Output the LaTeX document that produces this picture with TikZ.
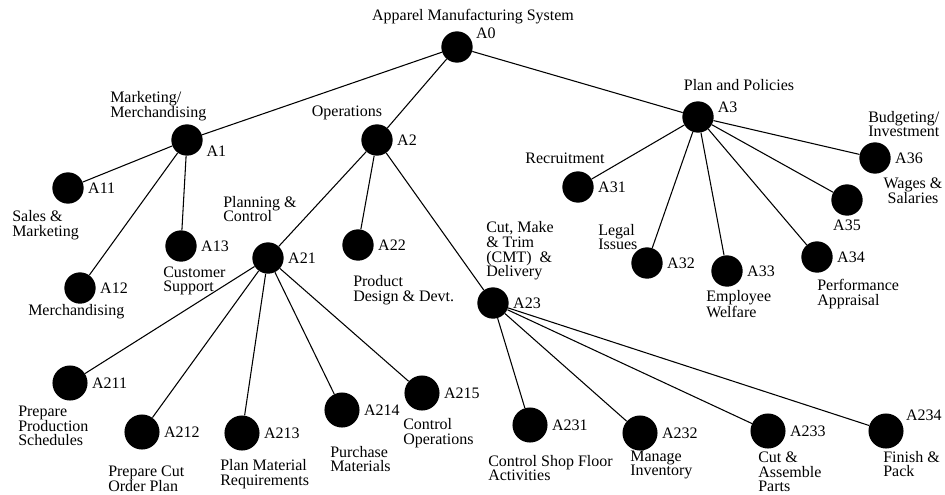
\documentclass[tikz,border=0pt]{standalone}
\usepackage{fontspec}
\setmainfont{Liberation Serif}
\usepackage{tikz}
\usetikzlibrary{positioning}

\tikzset{
  dot/.style={circle, fill=black, inner sep=0pt, minimum size=23.5pt},
  bigdot/.style={circle, fill=black, inner sep=0pt, minimum size=26.3pt},
  lbl/.style={inner sep=1pt, font=\fontsize{12}{11}\selectfont},
  txt/.style={inner sep=0pt, align=left, font=\fontsize{12}{11}\selectfont},
  edge/.style={black, line width=0.8pt}
}

\begin{document}
\begin{tikzpicture}[x=0.75pt, y=-0.75pt, label distance=2pt]
\useasboundingbox (0,0) rectangle (945,494);

% Draw the function nodes
\node[dot, label={[lbl]20:A0}] (a0) at (457,47) {};
\node[dot, label={[lbl]-15:A1}] (a1) at (187,140) {};
\node[dot, label={[lbl]east:A2}] (a2) at (377,140) {};
\node[dot, label={[lbl]10:A3}] (a3) at (698,117) {};

\node[dot, label={[lbl]east:A11}] (a11) at (68,188) {};
\node[dot, label={[lbl]east:A12}] (a12) at (80,288) {};
\node[dot, label={[lbl]east:A13}] (a13) at (181,246) {};

\node[dot, label={[lbl]east:A21}] (a21) at (268,258) {};
\node[dot, label={[lbl]east:A22}] (a22) at (358,245) {};
\node[dot, label={[lbl]east:A23}] (a23) at (493,303) {};

\node[dot, label={[lbl]east:A31}] (a31) at (578,187) {};
\node[dot, label={[lbl]east:A32}] (a32) at (647,263) {};
\node[dot, label={[lbl]east:A33}] (a33) at (727,271) {};
\node[dot, label={[lbl]east:A34}] (a34) at (817,257) {};
\node[dot, label={[lbl]south:A35}] (a35) at (847,200) {};
\node[dot, label={[lbl]east:A36}] (a36) at (875,158) {};

\node[bigdot, label={[lbl]east:A211}] (a211) at (70,383) {};
\node[bigdot, label={[lbl]east:A212}] (a212) at (142,432) {};
\node[bigdot, label={[lbl]east:A213}] (a213) at (242,433) {};
\node[bigdot, label={[lbl]east:A214}] (a214) at (342,410) {};
\node[bigdot, label={[lbl]east:A215}] (a215) at (422,393) {};

\node[bigdot, label={[lbl]east:A231}] (a231) at (530,425) {};
\node[bigdot, label={[lbl]east:A232}] (a232) at (640,433) {};
\node[bigdot, label={[lbl]east:A233}] (a233) at (768,431) {};
\node[bigdot, label={[lbl]25:A234}] (a234) at (886,431) {};

% Draw the tree edges
\draw[edge] (a0) -- (a1);
\draw[edge] (a0) -- (a2);
\draw[edge] (a0) -- (a3);
\draw[edge] (a1) -- (a11);
\draw[edge] (a1) -- (a12);
\draw[edge] (a1) -- (a13);
\draw[edge] (a2) -- (a21);
\draw[edge] (a2) -- (a22);
\draw[edge] (a2) -- (a23);
\draw[edge] (a21) -- (a211);
\draw[edge] (a21) -- (a212);
\draw[edge] (a21) -- (a213);
\draw[edge] (a21) -- (a214);
\draw[edge] (a21) -- (a215);
\draw[edge] (a23) -- (a231);
\draw[edge] (a23) -- (a232);
\draw[edge] (a23) -- (a233);
\draw[edge] (a23) -- (a234);
\draw[edge] (a3) -- (a31);
\draw[edge] (a3) -- (a32);
\draw[edge] (a3) -- (a33);
\draw[edge] (a3) -- (a34);
\draw[edge] (a3) -- (a35);
\draw[edge] (a3) -- (a36);

% Names of the functions
\node[txt] (tsys) at (473,17) {Apparel Manufacturing System};
\node[txt, anchor=west] (tmkt) at (110,106) {Marketing/\\Merchandising};
\node[txt] (tops) at (347,113) {Operations};
\node[txt] (tplan) at (739,85) {Plan and Policies};

\node[txt, anchor=west] (tsales) at (12,225) {Sales \&\\Marketing};
\node[txt, anchor=west] (tmerch) at (28,312) {Merchandising};
\node[txt, anchor=west] (tcust) at (163,281) {Customer\\Support};

\node[txt, anchor=west] (tpc) at (223,209) {Planning \&\\Control};
\node[txt, anchor=west] (tprod) at (353,290) {Product\\Design \& Devt.};
\node[txt, anchor=west] (tcmt) at (486,251) {Cut, Make\\\& Trim\\(CMT)~ \&\\Delivery};

\node[txt] (trecr) at (565,158) {Recruitment};
\node[txt, anchor=west] (tlegal) at (598,237) {Legal\\Issues};
\node[txt, anchor=west] (templ) at (706,304) {Employee\\Welfare};
\node[txt, anchor=west] (tperf) at (817,294) {Performance\\Appraisal};
\node[txt, align=center] (twage) at (913,191) {Wages \&\\Salaries};
\node[txt, anchor=west] (tbudg) at (868,124) {Budgeting/\\Investment};

\node[txt, anchor=west] (tprep) at (18,426) {Prepare\\Production\\Schedules};
\node[txt, anchor=west] (tcut) at (108,479) {Prepare Cut\\Order Plan};
\node[txt, anchor=west] (tmat) at (220,474) {Plan Material\\Requirements};
\node[txt, anchor=west] (tpur) at (330,459) {Purchase\\Materials};
\node[txt, anchor=west] (tctl) at (403,433) {Control\\Operations};

\node[txt, anchor=west] (tshop) at (488,468) {Control Shop Floor\\Activities};
\node[txt, anchor=west] (tinv) at (630,465) {Manage\\Inventory};
\node[txt, anchor=west] (tasm) at (758,472) {Cut \&\\Assemble\\Parts};
\node[txt, anchor=west] (tfin) at (883,464) {Finish \&\\Pack};

\end{tikzpicture}
\end{document}
